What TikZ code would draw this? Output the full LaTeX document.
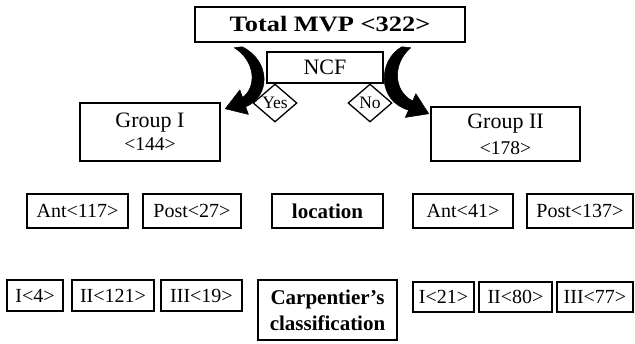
\documentclass[tikz,border=0pt]{standalone}
\usepackage{fontspec}
\setmainfont{Liberation Serif}
\newfontfamily\titlefont{Liberation Serif}[FakeStretch=1.2]
\usetikzlibrary{shapes.geometric,arrows.meta}
\pgfdeclarelayer{bg}
\pgfsetlayers{bg,main}
\begin{document}
\begin{tikzpicture}[x=1pt,y=-1pt,
  box/.style={draw,line width=1.5pt,inner sep=0pt,align=center,font=\fontsize{20}{25}\selectfont},
  bbox/.style={box,font=\fontsize{21}{26}\selectfont\bfseries},
  dia/.style={draw,diamond,line width=1.3pt,fill=white,inner sep=0pt,minimum width=44pt,minimum height=38pt,font=\fontsize{17.5}{17.5}\selectfont},
  bigarrow/.style={fill=black,draw=black,line width=0.5pt,line join=round}]
\useasboundingbox (0,0) rectangle (635,343);
% top
\node[bbox,minimum width=270pt,minimum height=35pt,font=\titlefont\fontsize{22}{26}\selectfont\bfseries] (total) at (330,24.5) {Total MVP <322>};
\node[box,minimum width=116pt,minimum height=31pt,font=\fontsize{22}{26}\selectfont] (ncf) at (325,67.5) {NCF};
\node[dia] (yes) at (275,103) {Yes};
\node[dia] (no) at (370,103) {No};
% groups
\node[box,minimum width=140pt,minimum height=58pt] (g1) at (150,132) {\fontsize{22}{26}\selectfont Group I\\[-2pt]{\fontsize{19.5}{24}\selectfont <144>}};
\node[box,minimum width=149pt,minimum height=54pt] (g2) at (505.5,134) {\fontsize{22}{26}\selectfont Group II\\[1pt]{\fontsize{19.5}{24}\selectfont <178>}};
% location row
\node[box,minimum width=101pt,minimum height=34pt] (a1) at (77.5,211) {Ant<117>};
\node[box,minimum width=98pt,minimum height=34pt] (p1) at (192,211) {Post<27>};
\node[bbox,minimum width=111pt,minimum height=34pt] (loc) at (327.5,211) {location};
\node[box,minimum width=100pt,minimum height=34pt] (a2) at (463,211) {Ant<41>};
\node[box,minimum width=106pt,minimum height=34pt] (p2) at (580,211) {Post<137>};
% classification row
\node[box,minimum width=56pt,minimum height=31pt] (c11) at (35,295.5) {I<4>};
\node[box,minimum width=82pt,minimum height=31pt] (c12) at (113,295.5) {II<121>};
\node[box,minimum width=81pt,minimum height=31pt] (c13) at (201.5,295.5) {III<19>};
\node[bbox,minimum width=139pt,minimum height=60pt] (carp) at (327.5,310) {Carpentier’s\\classification};
\node[box,minimum width=61pt,minimum height=30pt] (c21) at (443.5,297) {I<21>};
\node[box,minimum width=73pt,minimum height=30pt] (c22) at (515.5,297) {II<80>};
\node[box,minimum width=76pt,minimum height=30pt] (c23) at (595,297) {III<77>};
% curved tapered arrows (Yes -> Group I, No -> Group II)
\begin{pgfonlayer}{bg}
\begin{scope}[shift={(total.south west)}]
\draw[bigarrow] (48,4) -- (40,5) .. controls (61,18) and (63,44) .. (48.3,54.7)
  -- (45.6,47.1) -- (31,66) -- (54.2,71.7) -- (51.5,64.1)
  .. controls (77,53) and (76,18) .. cycle;
\end{scope}
\begin{scope}[shift={(total.south east)}]
\draw[bigarrow] (-64,4) -- (-55,5) .. controls (-73,20) and (-73,48) .. (-53.1,58.2)
  -- (-49.9,50.9) -- (-37,71) -- (-60.5,74.7) -- (-57.2,67.4)
  .. controls (-89,58) and (-88,18) .. cycle;
\end{scope}
\end{pgfonlayer}
\end{tikzpicture}
\end{document}
